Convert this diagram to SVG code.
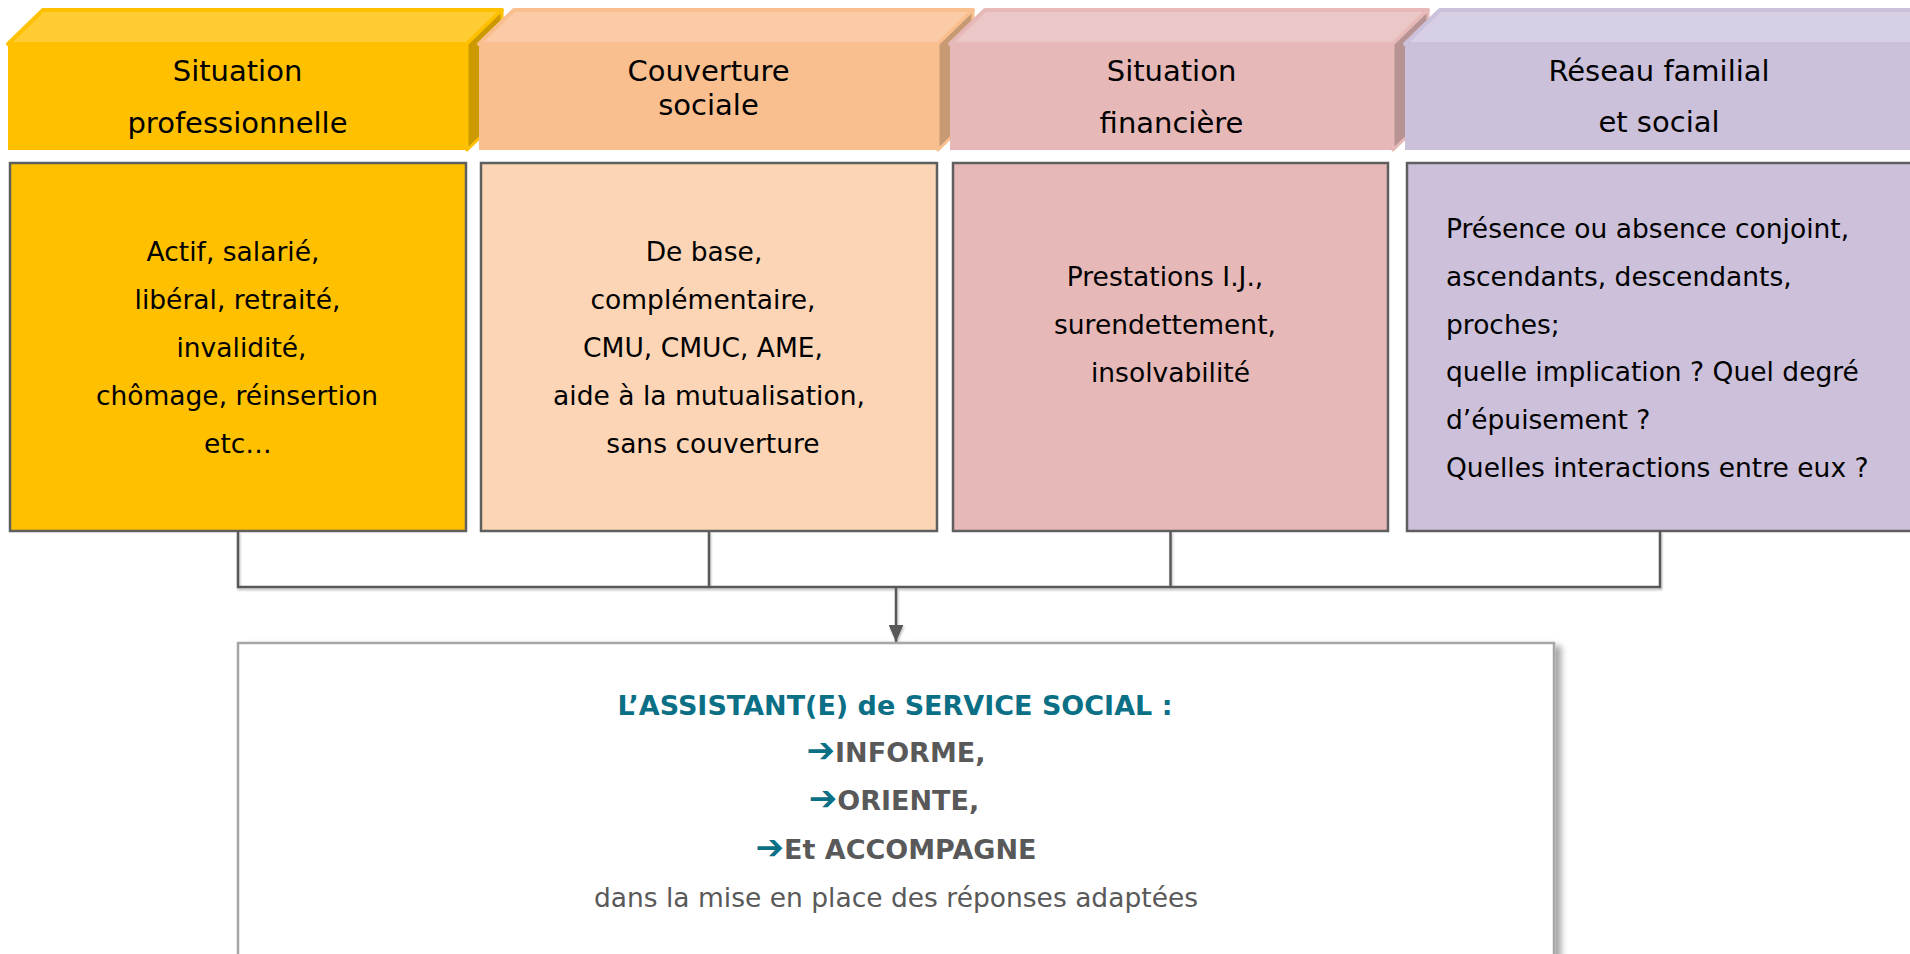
<svg xmlns="http://www.w3.org/2000/svg" width="1910" height="954" viewBox="0 0 1910 954">
<defs>
<style>
text{font-family:"DejaVu Sans","Verdana",sans-serif;}
.hd{font-size:29px;fill:#000;text-anchor:middle;}
.ct{font-size:26.5px;fill:#000;text-anchor:middle;}
.cl{font-size:26.5px;fill:#000;}
.box{stroke:#5f5f5f;stroke-width:2.5;}
.edge{fill:none;stroke:#595959;stroke-width:2.5;}
.t1{font-size:27px;font-weight:bold;fill:#0B6F86;text-anchor:middle;}
.t2{font-size:27px;font-weight:bold;fill:#595959;text-anchor:middle;}
.ar{fill:#0B6F86;font-size:34px;font-weight:bold;}
.t3{font-size:26.5px;fill:#595959;text-anchor:middle;}
</style>
<marker id="arr" viewBox="0 0 10 10" refX="10" refY="5" markerWidth="7" markerHeight="6" markerUnits="strokeWidth" orient="auto" preserveAspectRatio="none">
<path d="M0,0 L10,5 L0,10 z" fill="#595959"/>
</marker>
<filter id="sh" x="-5%" y="-5%" width="115%" height="115%">
<feDropShadow dx="6" dy="4" stdDeviation="3" flood-color="#000" flood-opacity="0.35"/>
</filter>
<filter id="lsh" x="-5%" y="-20%" width="110%" height="140%">
<feDropShadow dx="1" dy="2" stdDeviation="1" flood-color="#000" flood-opacity="0.25"/>
</filter>
</defs>
<rect width="1910" height="954" fill="#fff"/>

<g id="header1">
<polygon points="8,44 43,10 502,10 467,44" fill="#FFCC33" stroke="#FFC000" stroke-width="4" stroke-linejoin="round"/>
<polygon points="467,44 502,10 502,116 467,150" fill="#CC9A00" stroke="#FFC000" stroke-width="3" stroke-linejoin="round"/>
<rect x="8" y="44" width="459" height="106" fill="#FFC000"/>
<text class="hd" x="237.5" y="81">Situation</text>
<text class="hd" x="237.5" y="133">professionnelle</text>
</g>
<g id="header2">
<polygon points="479,44 514,10 973,10 938,44" fill="#FACBA6" stroke="#F9BF8F" stroke-width="4" stroke-linejoin="round"/>
<polygon points="938,44 973,10 973,116 938,150" fill="#C89A74" stroke="#F9BF8F" stroke-width="3" stroke-linejoin="round"/>
<rect x="479" y="44" width="459" height="106" fill="#F9BF8F"/>
<text class="hd" x="708.5" y="81">Couverture</text>
<text class="hd" x="708.5" y="115">sociale</text>
</g>
<g id="header3">
<polygon points="950,44 985,10 1428,10 1393,44" fill="#EBC8C7" stroke="#E6B8B7" stroke-width="4" stroke-linejoin="round"/>
<polygon points="1393,44 1428,10 1428,116 1393,150" fill="#B89393" stroke="#E6B8B7" stroke-width="3" stroke-linejoin="round"/>
<rect x="950" y="44" width="443" height="106" fill="#E6B8B7"/>
<text class="hd" x="1171.5" y="81">Situation</text>
<text class="hd" x="1171.5" y="133">financière</text>
</g>
<g id="header4">
<polygon points="1405,44 1440,10 1948,10 1913,44" fill="#D7CFE3" stroke="#CCC1DA" stroke-width="4" stroke-linejoin="round"/>
<rect x="1405" y="44" width="510" height="106" fill="#CCC1DA"/>
<text class="hd" x="1659" y="81">Réseau familial</text>
<text class="hd" x="1659" y="132">et social</text>
</g>

<g id="box1">
<rect class="box" x="10" y="163" width="456" height="368" fill="#FFC000"/>
<text class="ct" x="233" y="261">Actif, salarié,</text>
<text class="ct" x="237.5" y="309">libéral, retraité,</text>
<text class="ct" x="241.5" y="357">invalidité,</text>
<text class="ct" x="237" y="405">chômage, réinsertion</text>
<text class="ct" x="238" y="453">etc…</text>
</g>
<g id="box2">
<rect class="box" x="481" y="163" width="456" height="368" fill="#FBD5B5"/>
<text class="ct" x="704" y="261">De base,</text>
<text class="ct" x="703" y="309">complémentaire,</text>
<text class="ct" x="703" y="357">CMU, CMUC, AME,</text>
<text class="ct" x="709" y="405">aide à la mutualisation,</text>
<text class="ct" x="713" y="453">sans couverture</text>
</g>
<g id="box3">
<rect class="box" x="953" y="163" width="435" height="368" fill="#E6B8B7"/>
<text class="ct" x="1165" y="286">Prestations I.J.,</text>
<text class="ct" x="1165" y="333.5">surendettement,</text>
<text class="ct" x="1170.5" y="381.5">insolvabilité</text>
</g>
<g id="box4">
<rect class="box" x="1407" y="163" width="510" height="368" fill="#CCC0DA"/>
<text class="cl" x="1446" y="238">Présence ou absence conjoint,</text>
<text class="cl" x="1446" y="285.5">ascendants, descendants,</text>
<text class="cl" x="1446" y="334">proches;</text>
<text class="cl" x="1446" y="381">quelle implication ? Quel degré</text>
<text class="cl" x="1446" y="428.5">d’épuisement ?</text>
<text class="cl" x="1446" y="476.5">Quelles interactions entre eux ?</text>
</g>

<g id="connectors" filter="url(#lsh)">
<polyline class="edge" points="238,531 238,587 1660,587 1660,531"/>
<line class="edge" x1="709" y1="531" x2="709" y2="587"/>
<line class="edge" x1="1170.5" y1="531" x2="1170.5" y2="587"/>
<line class="edge" x1="896" y1="587" x2="896" y2="642" marker-end="url(#arr)"/>
</g>

<g id="bottom">
<rect x="238" y="643" width="1316" height="330" fill="#fff" stroke="#A6A6A6" stroke-width="2.5" filter="url(#sh)"/>
<text class="t1" x="895" y="714.5">L’ASSISTANT(E) de SERVICE SOCIAL :</text>
<text class="t2" x="896" y="762"><tspan class="ar">➔</tspan>INFORME,</text>
<text class="t2" x="894" y="810"><tspan class="ar">➔</tspan>ORIENTE,</text>
<text class="t2" x="896" y="858.5"><tspan class="ar">➔</tspan>Et ACCOMPAGNE</text>
<text class="t3" x="896" y="906.5">dans la mise en place des réponses adaptées</text>
</g>
</svg>
